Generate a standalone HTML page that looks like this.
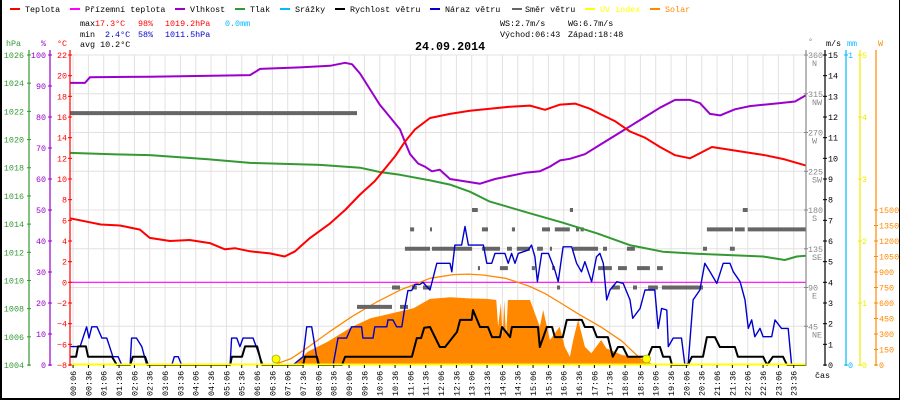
<!DOCTYPE html>
<html><head><meta charset="utf-8">
<style>
html,body{margin:0;padding:0;background:#fff;}
svg{display:block;}
text{font-family:"Liberation Mono",monospace;font-size:8.4px;}
</style></head>
<body>
<svg id="chart" width="900" height="400" viewBox="0 0 900 400" xmlns="http://www.w3.org/2000/svg">
<rect x="0" y="0" width="900" height="400" fill="#fff"/>
<g id="grid"></g>
<g id="legend">
 <g><rect x="10" y="8" width="10" height="2" fill="#f00"/><text x="25" y="12">Teplota</text></g>
 <g><rect x="70" y="8" width="10" height="2" fill="#f0f"/><text x="85" y="12">Přízemní teplota</text></g>
 <g><rect x="175" y="8" width="10" height="2" fill="#90c"/><text x="190" y="12">Vlhkost</text></g>
 <g><rect x="235" y="8" width="10" height="2" fill="#393"/><text x="250" y="12">Tlak</text></g>
 <g><rect x="280" y="8" width="10" height="2" fill="#0bf"/><text x="295" y="12">Srážky</text></g>
 <g><rect x="335" y="8" width="10" height="2" fill="#000"/><text x="350" y="12">Rychlost větru</text></g>
 <g><rect x="430" y="8" width="10" height="2" fill="#00c"/><text x="445" y="12">Náraz větru</text></g>
 <g><rect x="512" y="8" width="10" height="2" fill="#666"/><text x="525" y="12">Směr větru</text></g>
 <g><rect x="585" y="8" width="10" height="2" fill="#ff0"/><text x="600" y="12" fill="#ff0">UV index</text></g>
 <g><rect x="650" y="8" width="10" height="2" fill="#f80"/><text x="665" y="12" fill="#f80">Solar</text></g>
</g>
<g>
 <text x="80" y="26">max</text>
 <text x="95" y="26" fill="#f00">17.3°C</text>
 <text x="138" y="26" fill="#f00">98%</text>
 <text x="165" y="26" fill="#f00">1019.2hPa</text>
 <text x="225" y="26" fill="#0bf">0.0mm</text>
 <text x="80" y="37">min</text>
 <text x="105" y="37" fill="#00c">2.4°C</text>
 <text x="138" y="37" fill="#00c">58%</text>
 <text x="165" y="37" fill="#00c">1011.5hPa</text>
 <text x="80" y="47">avg 10.2°C</text>
 <text x="500" y="26">WS:2.7m/s</text>
 <text x="568" y="26">WG:6.7m/s</text>
 <text x="500" y="37">Východ:06:43</text>
 <text x="568" y="37">Západ:18:48</text>
</g>
<text x="415" y="50" style="font-size:11.7px;font-weight:bold">24.09.2014</text>
<g id="marks"></g>
<g id="axes"></g>
<rect x="0" y="0" width="2" height="400" fill="#000"/>
<rect x="899" y="0" width="1" height="400" fill="#000"/>
<rect x="0" y="398" width="900" height="2" fill="#000"/>
</svg>
<script>
const tempT=[0,0.33,1,1.63,2.28,2.6,3.26,3.9,4.56,5.05,5.38,5.87,6.52,7.0,7.34,7.83,8.48,8.97,9.46,9.94,10.27,10.6,10.92,11.25,11.74,12.39,13.04,13.69,14.35,15.0,15.49,15.98,16.47,16.95,17.28,17.77,18.26,18.75,19.24,19.73,20.22,20.54,20.93,21.36,22.01,22.66,23.31,24];
const tempV=[6.2,6.0,5.6,5.5,5.1,4.3,4.0,4.1,3.8,3.2,3.3,3.0,2.8,2.5,3.0,4.3,5.7,7.0,8.5,9.8,11.0,12.2,13.6,14.8,15.9,16.3,16.6,16.8,17.0,17.1,16.7,17.2,17.3,16.8,16.3,15.6,14.6,14.0,13.1,12.3,12.0,12.5,13.1,12.9,12.6,12.3,11.9,11.3];
const humT=[0,0.49,0.65,2.6,5.87,6.2,7.5,8.48,8.97,9.2,9.46,9.78,10.1,10.43,10.76,10.92,11.09,11.35,11.57,11.8,12.06,12.39,13.04,13.37,13.86,14.35,14.84,15.32,15.65,15.98,16.3,16.79,17.28,17.77,18.26,18.75,19.24,19.73,20.22,20.54,20.87,21.2,21.68,22.17,22.66,23.15,23.64,24];
const humV=[91,91,92.8,93,93.5,95.5,96,96.5,97.5,97,94,89,84,80,76,72,68,65,64,62.5,63,60,59,58.5,60,61,62,62.5,64,66,66.5,68,71,74,77,80,83,85.5,85.5,84.5,81,80.5,82.5,83.5,84,84.5,85,87];
const presT=[0,1.5,2.6,4.5,5.87,8.15,9.46,10.1,10.76,11.74,12.39,13.04,13.69,14.25,15.0,16.07,17.18,18.26,19.33,20.44,21.52,22.6,23.31,23.7,24];
const presV=[1019.05,1018.95,1018.9,1018.6,1018.34,1018.2,1018.0,1017.7,1017.5,1017.1,1016.8,1016.3,1015.6,1015.24,1014.77,1014.1,1013.35,1012.5,1012.04,1011.9,1011.8,1011.7,1011.45,1011.7,1011.75];
const windT=[0,0.2,0.26,0.52,0.59,1.37,1.53,1.96,2.05,2.45,2.54,5.22,5.28,5.61,5.71,6.1,6.26,7.6,7.66,8.05,8.12,8.87,8.97,11.15,11.31,11.45,11.55,11.74,12.06,12.23,12.62,12.72,13.1,13.14,13.37,13.63,13.76,14.02,14.09,14.35,14.41,15.26,15.32,15.55,15.72,15.81,16.07,16.2,16.69,16.79,17.05,17.18,17.54,17.7,17.87,18.03,18.19,18.85,18.98,19.24,19.34,19.56,19.63,20.15,20.28,20.64,20.77,21.03,21.19,21.68,21.78,22.6,22.73,22.92,23.25,23.38,24];
const windV=[0.4,0.4,0.9,0.9,0.4,0.4,0,0,0.4,0.4,0,0,0.4,0.4,0.9,0.9,0,0,0.4,0.4,0,0,0.4,0.4,1.3,1.3,1.8,1.84,0.87,0.87,1.6,2.18,2.18,2.66,1.84,1.84,1.35,1.35,1.84,1.35,1.84,1.84,0.87,1.84,1.84,1.35,1.35,2.18,2.18,1.84,1.84,1.35,1.35,0.4,0.87,0.87,0.4,0.4,0.87,0.87,0.4,0.4,0,0,0.4,0.4,1.35,1.35,0.87,0.87,0.4,0.4,0,0.4,0.4,0,0];
const gustT=[0,0.33,0.54,0.62,0.71,0.88,1.04,1.14,1.2,1.4,1.57,1.69,1.96,2.01,2.17,2.34,2.5,3.32,3.4,3.53,3.64,5.22,5.27,5.44,5.54,5.64,5.97,6.19,6.29,7.27,7.6,7.72,7.88,8.04,8.09,8.58,8.74,9.02,9.18,9.51,9.55,9.88,9.94,10.33,10.37,10.53,10.65,10.82,10.92,11.02,11.14,11.25,11.41,11.51,11.63,11.74,11.96,12.39,12.45,12.55,12.77,12.88,12.99,13.48,13.59,13.75,13.86,14.18,14.29,14.4,14.51,14.62,14.94,15.05,15.16,15.24,15.38,15.6,15.81,15.92,16.08,16.36,16.52,16.68,16.79,17.01,17.17,17.28,17.39,17.5,17.61,17.83,18.04,18.26,18.35,18.59,18.75,19.07,19.18,19.29,19.46,19.51,19.67,19.94,20.05,20.16,20.32,20.54,20.7,20.87,21.09,21.3,21.52,21.63,21.85,22.01,22.12,22.23,22.33,22.5,22.6,22.88,22.99,23.2,23.42,23.53,24];
const gustV=[0.89,0.89,1.85,1.3,1.85,1.85,1.3,1.3,1.3,0.4,0.4,0,0,1.3,1.3,0.89,0,0,0.4,0.4,0,0,1.3,1.3,0.89,1.3,1.3,0.4,0,0,0.4,1.85,1.85,0.4,0,0,1.3,1.3,1.85,1.85,1.3,1.3,1.85,1.85,2.18,2.18,1.85,1.85,2.8,3.6,3.6,3.9,3.9,4.0,3.8,3.63,4.92,4.92,4.51,5.8,5.8,6.7,5.8,5.8,4.92,4.92,5.4,5.4,4.92,5.4,4.92,5.4,5.56,5.8,5.24,4.03,5.4,5.4,4.6,4.03,5.72,5.72,4.92,4.51,5.0,4.03,5.24,5.4,4.92,3.15,3.63,4.03,3.95,3.15,2.26,2.74,3.63,3.63,1.77,2.74,2.66,0.89,1.3,1.3,0,0.08,3.15,3.63,4.92,4.51,3.95,4.92,4.92,4.51,4.03,3.15,1.77,2.18,1.37,1.77,1.37,1.37,2.18,1.77,1.77,0,0];
const solarT=[7.2,7.4,7.75,8.4,9.2,9.8,10.5,11.2,11.74,12.4,13.0,13.6,13.9,13.96,14.05,14.11,14.16,14.22,14.28,14.33,15.0,15.32,15.43,15.65,15.97,16.13,16.3,16.41,16.57,16.79,17.0,17.16,17.32,17.49,18.0,18.6,19.0,19.1];
const solarV=[0,32,129,225,371,452,500,549,640,655,645,640,629,371,597,274,629,274,629,629,629,371,532,242,371,177,80,242,436,177,113,177,242,161,97,65,10,0];
const clearT=[6.62,7.2,7.8,8.5,9.2,10.0,10.8,11.74,12.5,13.0,13.5,14.2,14.6,15.0,15.5,16.0,16.6,17.3,18.0,18.5,18.8];
const clearV=[0,60,180,330,470,610,730,839,875,880,870,839,800,760,690,600,490,371,230,90,0];
const dirStart=[0,9.36,10.5,10.76,11.15,11.51,10.92,11.09,11.74,11.8,13.11,13.3,13.43,13.43,14.02,14.25,14.41,14.57,15.06,15.23,15.39,15.65,15.72,15.81,15.88,16.3,16.4,16.5,16.65,17.22,17.38,17.67,17.87,18.16,18.36,18.49,18.85,19.14,19.3,20.64,20.77,21.52,21.68,21.94,22.1];
const dirEnd=[9.36,10.5,10.76,11.02,11.31,11.74,11.74,11.22,11.8,13.11,13.3,13.37,13.63,14.02,14.28,14.41,14.51,15.0,15.16,15.42,15.65,15.72,15.81,16.3,15.98,16.4,17.22,16.6,16.75,17.67,17.51,17.93,18.16,18.42,18.49,18.91,19.17,19.33,20.64,20.77,21.62,21.68,22.0,22.1,24];
const dirDeg=[292.5,67.5,90,67.5,90,90,135,157.5,157.5,135,180,112.5,157.5,135,112.5,135,157.5,135,112.5,135,157.5,135,112.5,157.5,90,180,135,157.5,157.5,112.5,135,90,112.5,135,90,112.5,90,112.5,90,135,157.5,135,157.5,180,157.5];
const sunT=[6.72,18.8];
const hpaTicks=[1004,1006,1008,1010,1012,1014,1016,1018,1020,1022,1024,1026];
const pctTicks=[0,10,20,30,40,50,60,70,80,90,100];
const cTicks=[-8,-6,-4,-2,0,2,4,6,8,10,12,14,16,18,20,22];
const degTicks=[45,90,135,180,225,270,315,360];
const degNames=["NE","E","SE","S","SW","W","NW","N"];
const msTicks=[0,1,2,3,4,5,6,7,8,9,10,11,12,13,14,15];
const uvTicks=[0,1,2,3,4,5];
const wTicks=[0,150,300,450,600,750,900,1050,1200,1350,1500];
const timeLabels=[];for(let h=0;h<24;h++){const hh=(h<10?'0':'')+h;timeLabels.push(hh+':06',hh+':36');}

const NS='http://www.w3.org/2000/svg';
const X=h=>70+h*736/24;
const yT=t=>282.33-t*10.333, yP=p=>365-p*3.1, yH=p=>365-(p-1004)*14.09, yV=v=>365-v*20.667, yD=d=>365-d*0.8611, yW=w=>365-w*0.10333, yU=u=>365-u*62;
function el(tag,attrs,parent){const e=document.createElementNS(NS,tag);for(const k in attrs)e.setAttribute(k,attrs[k]);parent.appendChild(e);return e;}
const grid=document.getElementById('grid'),marks=document.getElementById('marks'),axes=document.getElementById('axes');
for(let i=0;i<timeLabels.length;i++){const x=X(0.1+i*0.5);const l=el('line',{x1:x,x2:x,y1:55,y2:365,stroke:'#e4e0e0','stroke-width':1},grid);

}
for(const d of degTicks.concat([0])){const y=yD(d);const l=el('line',{x1:70,x2:806,y1:y,y2:y,stroke:'#e4e0e0','stroke-width':1},grid);

}
let z=el('line',{x1:70,x2:806,y1:yT(0),y2:yT(0),stroke:'#f0f','stroke-width':1.2},marks);


let sp='M'+X(solarT[0])+','+yW(0);for(let i=0;i<solarT.length;i++)sp+=' L'+X(solarT[i]).toFixed(1)+','+yW(solarV[i]).toFixed(1);sp+=' L'+X(solarT[solarT.length-1])+','+yW(0)+'Z';
let s=el('path',{d:sp,fill:'#f80',stroke:'none'},marks);


function line(T,V,fy,color,w){const pts=T.map((t,i)=>X(t).toFixed(1)+','+fy(V[i]).toFixed(1)).join(' ');return el('polyline',{points:pts,fill:'none',stroke:color,'stroke-width':w,'stroke-linejoin':'round'},marks);}
let c=line(clearT,clearV,yW,'#f80',1.3);


for(let i=0;i<dirDeg.length;i++){const r=el('rect',{x:X(dirStart[i]).toFixed(1),y:yD(dirDeg[i])-2,width:Math.max(2,X(dirEnd[i])-X(dirStart[i])).toFixed(1),height:4,fill:'#666'},marks);

}
let g=line(presT,presV,yH,'#393',2);


let hm=line(humT,humV,yP,'#90c',2);


let tp=line(tempT,tempV,yT,'#f00',2);


let gu=line(gustT,gustV,yV,'#00c',1.4);


let ws=line(windT,windV,yV,'#000',2);


let uv=el('line',{x1:70,x2:806,y1:364.5,y2:364.5,stroke:'#ff0','stroke-width':2},marks);


for(const t of sunT){const cc=el('circle',{cx:X(t),cy:359,r:4,fill:'#ff0',stroke:'#aa0','stroke-width':0.8},marks);

}
function axis(x,color,ticks,fy,labelX,anchor,name,fmt){const a=el('line',{x1:x,x2:x,y1:50,y2:366,stroke:color,'stroke-width':1.2},axes);


for(const t of ticks){const y=fy(t);el('line',{x1:x-2,x2:x+2,y1:y,y2:y,stroke:color,'stroke-width':1},axes);
const tx=el('text',{x:labelX,y:y+3,fill:color,'text-anchor':anchor},axes);tx.textContent=fmt?fmt(t):t;

}}
axis(29,'#393',hpaTicks,yH,24,'end','hpa-axis');
axis(50,'#90c',pctTicks,yP,46,'end','humidity-axis');
axis(70,'#f00',cTicks,yT,67,'end','temperature-axis',t=>t<0?'−'+(-t):t);
axis(806,'#888',degTicks,yD,808,'start','direction-axis');
axis(825,'#000',msTicks,yV,828,'start','wind-speed-axis');
axis(846,'#0bf',[0,1],v=>365-v*310,848,'start','rain-axis');
axis(860,'#ee0',uvTicks,yU,862,'start','uv-axis');
axis(876,'#f80',wTicks,yW,879,'start','solar-axis');
for(let i=0;i<degTicks.length;i++){const t=el('text',{x:812,y:yD(degTicks[i])+11,fill:'#888'},axes);t.textContent=degNames[i];

}
const heads=[[6,46,'#393','hPa'],[41,46,'#90c','%'],[57,46,'#f00','°C'],[808,44,'#888','°'],[826,46,'#000','m/s'],[847,46,'#0bf','mm'],[878,46,'#f80','W'],[815,378,'#000','čas']];
for(const h of heads){const t=el('text',{x:h[0],y:h[1],fill:h[2]},axes);t.textContent=h[3];

}
for(let i=0;i<timeLabels.length;i++){const x=X(0.1+i*0.5);el('line',{x1:x,x2:x,y1:365,y2:368,stroke:'#000'},axes);
const t=el('text',{x:0,y:0,transform:'translate('+(x+3)+',396) rotate(-90)',fill:'#000'},axes);t.textContent=timeLabels[i];

}
</script>
</body></html>
